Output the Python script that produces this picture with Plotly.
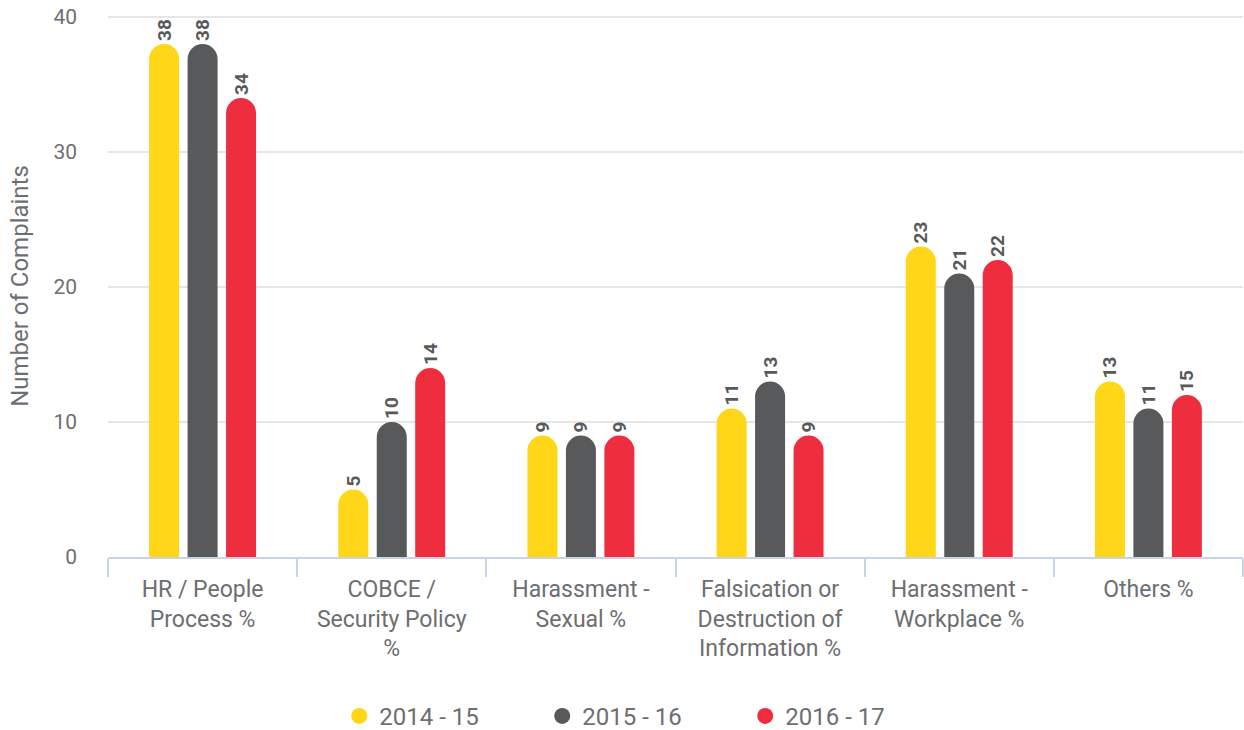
import plotly.graph_objects as go

# ---- dati
categories = [
    "HR / People<br>Process %",
    "COBCE /<br>Security Policy<br>%",
    "Harassment -<br>Sexual %",
    "Falsication or<br>Destruction of<br>Information %",
    "Harassment -<br>Workplace %",
    "Others %",
]
series_names = ["2014 - 15", "2015 - 16", "2016 - 17"]
v_2014 = [38, 5, 9, 11, 23, 13]
v_2015 = [38, 10, 9, 13, 21, 11]
v_2016 = [34, 14, 9, 9, 22, 12]
# etichette come stampate sul grafico (Others 2016-17 riporta 15)
lab_2014 = ["38", "5", "9", "11", "23", "13"]
lab_2015 = ["38", "10", "9", "13", "21", "11"]
lab_2016 = ["34", "14", "9", "9", "22", "15"]
y_ticks = [0, 10, 20, 30, 40]

colors = ["#FFD618", "#58595B", "#EE2E3F"]
txt = "#6D6E71"
font = "Roboto"

fig = go.Figure()
for name, vals, labs, c in zip(series_names, [v_2014, v_2015, v_2016],
                               [lab_2014, lab_2015, lab_2016], colors):
    fig.add_trace(go.Bar(
        x=categories, y=vals, name=name,
        marker=dict(color=c, cornerradius=15, line=dict(width=0)),
        text=labs, textposition="outside", textangle=-90, constraintext="none",
        textfont=dict(family=font, size=19, color="#58595B", weight="bold"),
        cliponaxis=False, showlegend=False,
    ))
    # solo per la legenda (pallini)
    fig.add_trace(go.Scatter(
        x=[None], y=[None], mode="markers", name=name,
        marker=dict(color=c, size=24, symbol="circle"),
    ))

fig.update_layout(
    width=1244, height=730,
    margin=dict(l=108, r=1, t=15, b=173, autoexpand=False),
    paper_bgcolor="white", plot_bgcolor="white",
    barmode="group", bargap=0.39, bargroupgap=0.22,
    font=dict(family=font, color=txt),
    showlegend=True,
    legend=dict(orientation="h", x=0.472, xanchor="center", y=-0.294, yanchor="middle",
                font=dict(size=24, color=txt), itemsizing="trace",
                entrywidth=158, traceorder="normal"),
    xaxis=dict(
        automargin=False,
        showline=True, linecolor="#C8D4E3", linewidth=2,
        ticks="outside", tickson="boundaries", ticklen=18, tickcolor="#C8D4E3", tickwidth=2,
        ticklabelstandoff=10,
        tickfont=dict(size=23, color=txt), showgrid=False,
    ),
    yaxis=dict(
        automargin=False,
        # un filo sopra 40 cosi la griglia in cima viene disegnata
        range=[0, 40.15], tickvals=y_ticks, showgrid=True, gridcolor="#E6E6E6", gridwidth=2,
        zeroline=False, ticks="", ticklabelstandoff=30,
        tickfont=dict(size=21, color=txt),
        title=dict(text="Number of Complaints", font=dict(size=24, color=txt), standoff=17),
    ),
)

# toglie il margine di 8px del body della pagina
fig.write_html("out.html", config={"displayModeBar": False},
               post_script="document.body.style.margin='0';")
